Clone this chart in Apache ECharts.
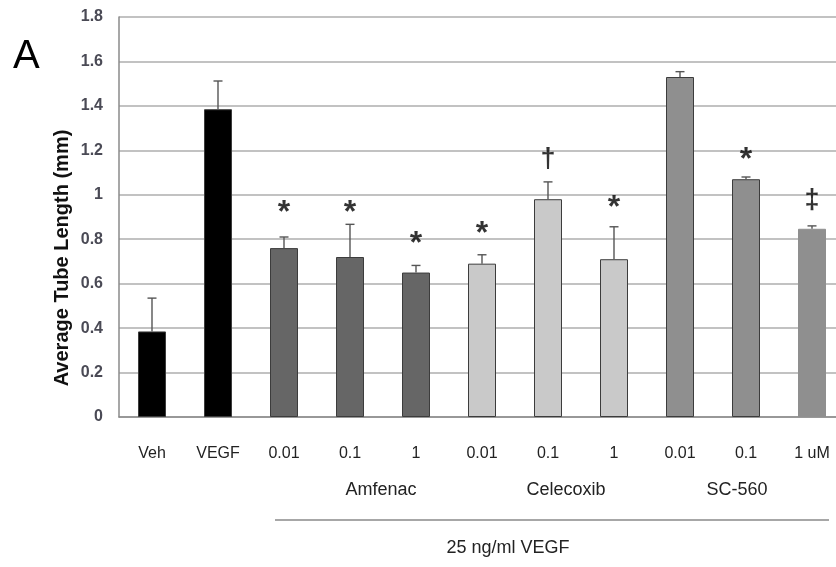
<!DOCTYPE html>
<html>
<head>
<meta charset="utf-8">
<script src="https://cdn.jsdelivr.net/npm/echarts@6/dist/echarts.min.js"></script>
<style>html,body{margin:0;padding:0;background:#fff;overflow:hidden}#c{width:846px;height:567px}</style>
</head>
<body>
<div id="c"></div>
<script>
var categories = ['Veh', 'VEGF', '0.01', '0.1', '1', '0.01', '0.1', '1', '0.01', '0.1', '1 uM'];
var groups = ['control', 'control', 'Amfenac', 'Amfenac', 'Amfenac', 'Celecoxib', 'Celecoxib', 'Celecoxib', 'SC-560', 'SC-560', 'SC-560'];
var means = [0.385, 1.385, 0.76, 0.72, 0.65, 0.69, 0.98, 0.71, 1.53, 1.07, 0.847];
var errors = [0.15, 0.127, 0.05, 0.147, 0.032, 0.04, 0.078, 0.146, 0.024, 0.01, 0.013];
var annotSymbols = ['', '', '*', '*', '*', '*', '\u2020', '*', '', '*', '\u2021'];
var annotLevels = [null, null, 0.94, 0.94, 0.80, 0.845, 1.165, 0.96, null, 1.18, 0.98];
var yTicks = [0, 0.2, 0.4, 0.6, 0.8, 1, 1.2, 1.4, 1.6, 1.8];
var groupLabels = ['Amfenac', 'Celecoxib', 'SC-560'];
var bracketLabel = '25 ng/ml VEGF';
var yTitle = 'Average Tube Length (mm)';

var groupColors = {control: '#000000', Amfenac: '#666666', Celecoxib: '#c9c9c9', 'SC-560': '#8f8f8f'};
var FONT = 'Liberation Sans, Arial, sans-serif';

var chart = echarts.init(document.getElementById('c'));

var barData = means.map(function (v, i) {
  var last = i === means.length - 1;
  return {
    value: v,
    itemStyle: {
      color: groupColors[groups[i]],
      borderColor: last ? groupColors[groups[i]] : '#3c3c3c',
      borderWidth: 1
    }
  };
});

var errData = means.map(function (v, i) { return [i, v, v + errors[i]]; });
var annotData = [];
annotSymbols.forEach(function (s, i) {
  if (s) annotData.push({
    value: [i, annotLevels[i]],
    sym: s,
    label: s === '*' ? {fontSize: 32, offset: [0, 5]} : {fontSize: 27, offset: [0, 1]}
  });
});

chart.setOption({
  animation: false,
  grid: {left: 119, top: 17, width: 726, height: 400, containLabel: false},
  xAxis: {
    type: 'category',
    data: categories,
    axisLine: {lineStyle: {color: '#8a8a8a', width: 1.5}},
    axisTick: {show: false},
    axisLabel: {color: '#222', fontSize: 16, fontFamily: FONT, margin: 29, interval: 0}
  },
  yAxis: {
    type: 'value',
    min: 0, max: 1.8, interval: 0.2,
    axisLine: {show: true, lineStyle: {color: '#8a8a8a', width: 1.5}},
    axisTick: {show: false},
    axisLabel: {
      color: '#4a4a55', fontSize: 16, fontWeight: 'bold', fontFamily: FONT, margin: 16,
      formatter: function (v) {
        for (var k = 0; k < yTicks.length; k++) if (Math.abs(yTicks[k] - v) < 1e-9) return String(yTicks[k]);
        return '';
      }
    },
    splitLine: {lineStyle: {color: '#c2c2c2', width: 2}}
  },
  series: [
    {
      type: 'bar',
      data: barData,
      barWidth: 28,
      z: 2
    },
    {
      type: 'custom',
      data: errData,
      z: 3,
      renderItem: function (params, api) {
        var x = api.value(0);
        var p0 = api.coord([x, api.value(1)]);
        var p1 = api.coord([x, api.value(2)]);
        var cap = 4.5;
        var st = {stroke: '#555', lineWidth: 1.4};
        return {
          type: 'group',
          children: [
            {type: 'line', shape: {x1: p0[0], y1: p0[1], x2: p1[0], y2: p1[1]}, style: st},
            {type: 'line', shape: {x1: p1[0] - cap, y1: p1[1], x2: p1[0] + cap, y2: p1[1]}, style: st}
          ]
        };
      }
    },
    {
      type: 'scatter',
      data: annotData,
      symbolSize: 0,
      z: 4,
      label: {
        show: true,
        position: 'inside',
        formatter: function (p) { return p.data.sym; },
        fontFamily: FONT,
        fontWeight: 'bold',
        color: '#000'
      }
    }
  ]
});

var g = [];
var gx = [381, 566, 737];
groupLabels.forEach(function (t, i) {
  g.push({type: 'text', x: gx[i], y: 490, style: {text: t, fill: '#222', font: '18px ' + FONT, textAlign: 'center', textVerticalAlign: 'middle'}});
});
g.push({type: 'line', shape: {x1: 275, y1: 520, x2: 829, y2: 520}, style: {stroke: '#8a8a8a', lineWidth: 1.5}});
g.push({type: 'text', x: 508, y: 548, style: {text: bracketLabel, fill: '#222', font: '18px ' + FONT, textAlign: 'center', textVerticalAlign: 'middle'}});
g.push({type: 'text', x: 13, y: 57, style: {text: 'A', fill: '#000', font: '40px ' + FONT, textAlign: 'left', textVerticalAlign: 'middle'}});
g.push({type: 'text', x: 62, y: 258, rotation: Math.PI / 2, style: {text: yTitle, fill: '#111', font: 'bold 20px ' + FONT, textAlign: 'center', textVerticalAlign: 'middle'}});
chart.setOption({graphic: g});
</script>
</body>
</html>
